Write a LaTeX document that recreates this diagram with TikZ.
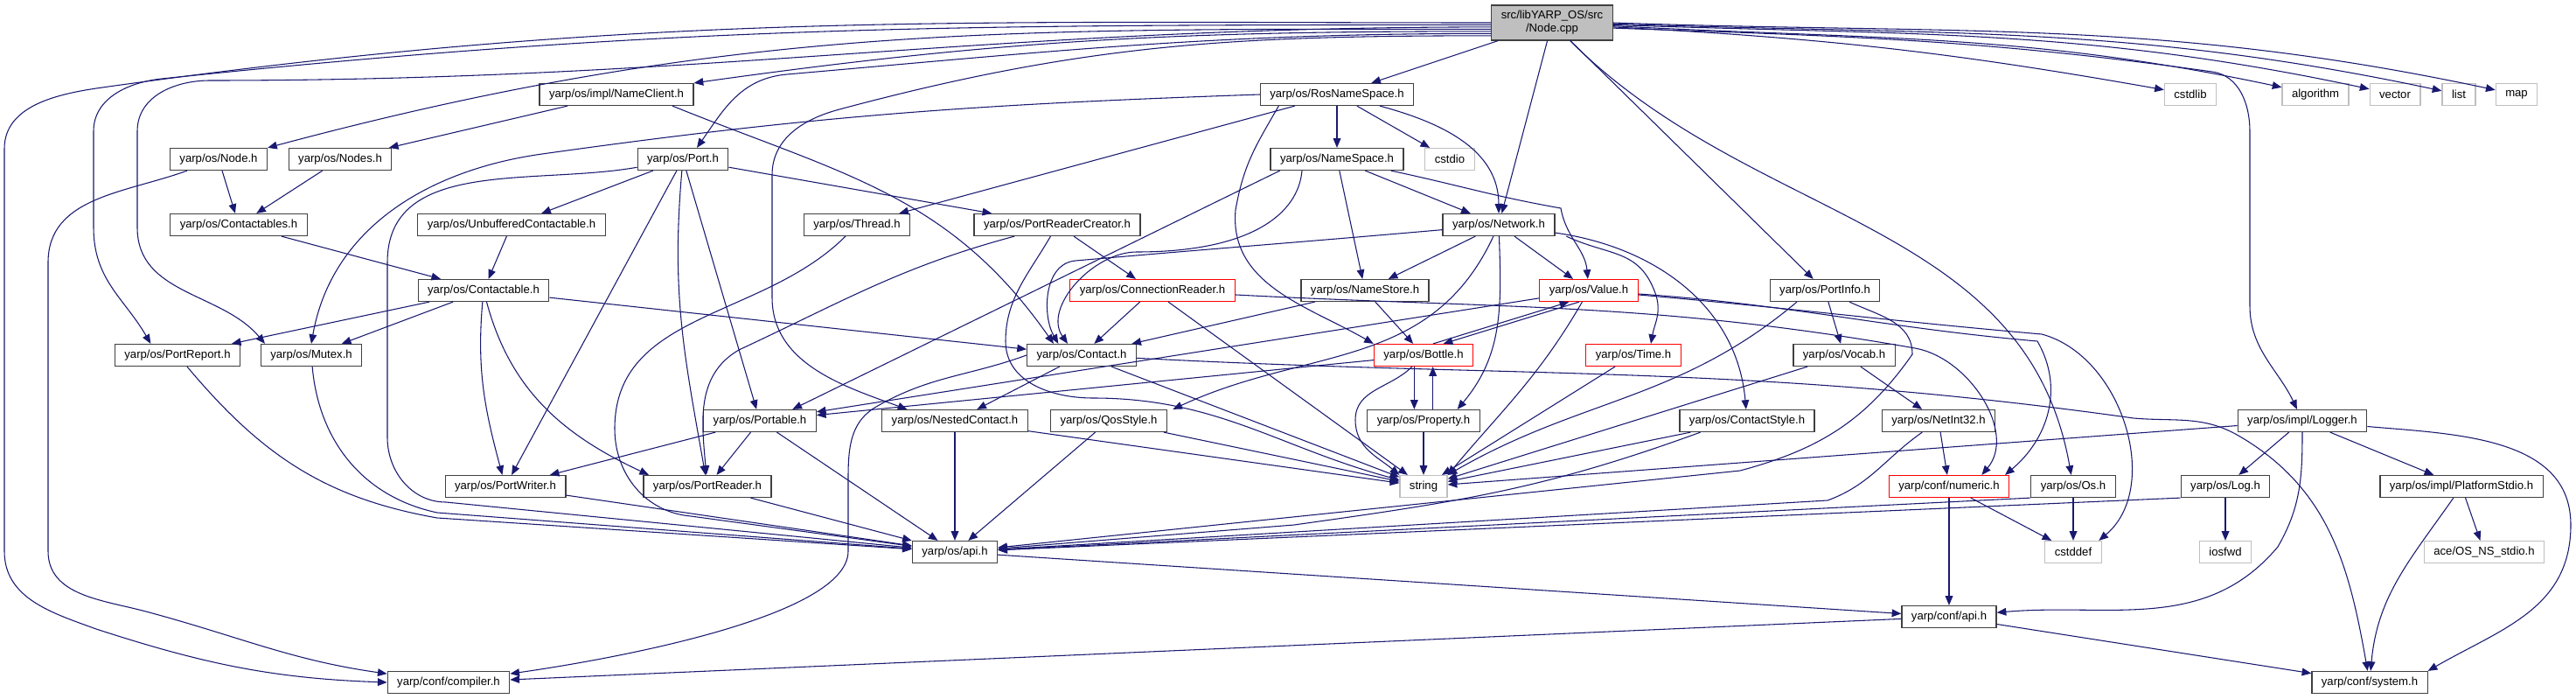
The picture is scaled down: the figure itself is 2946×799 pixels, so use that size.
\documentclass[tikz,border=0pt]{standalone}
\usepackage{fontspec}
\setmainfont{Liberation Sans}
\usetikzlibrary{arrows.meta}
\definecolor{edgeblue}{HTML}{191970}
\definecolor{boxgray}{HTML}{BFBFBF}
\definecolor{boxdark}{HTML}{404040}

\begin{document}
\begin{tikzpicture}[
    x=0.75pt, y=0.75pt,
    font=\fontsize{9.85}{11.25}\selectfont,
    header/.style={rectangle, draw=boxdark, fill=white, line width=0.9pt, minimum height=18.75pt, inner xsep=8.25pt, inner ysep=0pt},
    redheader/.style={header, draw=red},
    sysheader/.style={header, draw=boxgray},
    srcfile/.style={header, fill=boxgray, minimum height=30pt, align=center},
    incl/.style={draw=edgeblue, line width=0.8pt, -{Triangle[length=8pt,width=6.5pt]}}
]
\useasboundingbox (0,0) rectangle (2946,-799);

\node[srcfile] (root) at (1775,-26) {src/libYARP\_OS/src\\/Node.cpp};
\node[header] (nameclient) at (705,-108) {yarp/os/impl/NameClient.h};
\node[header] (rosns) at (1529,-108) {yarp/os/RosNameSpace.h};
\node[sysheader] (cstdlib) at (2505,-108) {cstdlib};
\node[sysheader] (algorithm) at (2648,-108) {algorithm};
\node[sysheader] (vector) at (2739,-108) {vector};
\node[sysheader] (list) at (2812,-108) {list};
\node[sysheader] (map) at (2878,-108) {map};
\node[header] (nodeh) at (250,-182) {yarp/os/Node.h};
\node[header] (nodes) at (389,-182) {yarp/os/Nodes.h};
\node[header] (port) at (781,-182) {yarp/os/Port.h};
\node[header] (namespace) at (1529,-182) {yarp/os/NameSpace.h};
\node[sysheader] (cstdio) at (1658,-182) {cstdio};
\node[header] (contactables) at (273,-257) {yarp/os/Contactables.h};
\node[header] (unbuffered) at (585,-257) {yarp/os/UnbufferedContactable.h};
\node[header] (thread) at (980,-257) {yarp/os/Thread.h};
\node[header] (readercreator) at (1209,-257) {yarp/os/PortReaderCreator.h};
\node[header] (network) at (1714,-257) {yarp/os/Network.h};
\node[header] (contactable) at (553,-332) {yarp/os/Contactable.h};
\node[redheader] (connreader) at (1318,-332) {yarp/os/ConnectionReader.h};
\node[header] (namestore) at (1561,-332) {yarp/os/NameStore.h};
\node[redheader] (value) at (1817,-332) {yarp/os/Value.h};
\node[header] (portinfo) at (2087,-332) {yarp/os/PortInfo.h};
\node[header] (portreport) at (203,-406) {yarp/os/PortReport.h};
\node[header] (mutex) at (356,-406) {yarp/os/Mutex.h};
\node[header] (contact) at (1237,-406) {yarp/os/Contact.h};
\node[redheader] (bottle) at (1628,-406) {yarp/os/Bottle.h};
\node[redheader] (time) at (1868,-406) {yarp/os/Time.h};
\node[header] (vocab) at (2109,-406) {yarp/os/Vocab.h};
\node[header] (portable) at (869,-481) {yarp/os/Portable.h};
\node[header] (nested) at (1092,-481) {yarp/os/NestedContact.h};
\node[header] (qos) at (1268,-481) {yarp/os/QosStyle.h};
\node[header] (property) at (1628,-481) {yarp/os/Property.h};
\node[header] (contactstyle) at (1998,-481) {yarp/os/ContactStyle.h};
\node[header] (netint) at (2217,-481) {yarp/os/NetInt32.h};
\node[header] (logger) at (2633,-481) {yarp/os/impl/Logger.h};
\node[header] (portwriter) at (578,-556) {yarp/os/PortWriter.h};
\node[header] (portreader) at (809,-556) {yarp/os/PortReader.h};
\node[sysheader] (string) at (1628,-556) {string};
\node[redheader] (numeric) at (2229,-556) {yarp/conf/numeric.h};
\node[header] (os) at (2371,-556) {yarp/os/Os.h};
\node[header] (log) at (2545,-556) {yarp/os/Log.h};
\node[header] (platform) at (2815,-556) {yarp/os/impl/PlatformStdio.h};
\node[header] (osapi) at (1092,-631) {yarp/os/api.h};
\node[sysheader] (cstddef) at (2371,-631) {cstddef};
\node[sysheader] (iosfwd) at (2545,-631) {iosfwd};
\node[sysheader] (ace) at (2841,-631) {ace/OS\_NS\_stdio.h};
\node[header] (confapi) at (2229,-705) {yarp/conf/api.h};
\node[header] (compiler) at (513,-780) {yarp/conf/compiler.h};
\node[header] (system) at (2710,-780) {yarp/conf/system.h};

\draw[incl] (root.180) .. controls +(180:620) and +(8:620) .. (117,-100) .. controls +(188:50) and +(90:50) .. (5,-170) -- (5,-630) .. controls +(-90:54) and +(160:54) .. (110,-719) .. controls +(-18:130) and +(178:130) .. (compiler.west);
\draw[incl] (root.182) .. controls +(180:593) and +(6:593) .. (185,-90) .. controls +(186:38) and +(90:38) .. (107,-150) -- (107,-260) .. controls +(-90:60) and +(120:60) .. ([xshift=-23]portreport.north);
\draw[incl] (root.184) .. controls +(180:571) and +(0:571) .. (240,-92) .. controls +(180:40) and +(90:40) .. (157,-150) -- (157,-260) .. controls +(-90:77) and +(130:77) .. ([xshift=4]mutex.north west);
\draw[incl] (root.186) .. controls +(180:550) and +(15:550) .. (nodeh.north east);
\draw[incl] (root.188) .. controls +(180:357) and +(8:357) .. (nameclient.north east);
\draw[incl] (root.190) .. controls +(180:314) and +(5:314) .. (900,-85) .. controls +(185:53) and +(55:53) .. ([xshift=12]port.north);
\draw[incl] (root.192) .. controls +(180:292) and +(15:292) .. (960,-125) .. controls +(195:42) and +(90:42) .. (883,-200) -- (883,-340) .. controls +(-90:76) and +(160:76) .. ([xshift=22]nested.north west);
\draw[incl] (root) -- (rosns);
\draw[incl] (root) -- (network);
\draw[incl] (root) -- (portinfo);
\draw[incl] (root.-45) .. controls +(-45:297) and +(100:297) .. (os.100);
\draw[incl] (root.-5) .. controls +(-2:267) and +(172:267) .. (2530,-82) .. controls +(-8:31) and +(90:31) .. (2573,-150) -- (2573,-350) .. controls +(-90:49) and +(115:49) .. (logger.115);
\draw[incl] (root.-4) .. controls +(-3:246) and +(170:246) .. (cstdlib.170);
\draw[incl] (root.-3) .. controls +(-3:298) and +(168:298) .. (algorithm.168);
\draw[incl] (root.-2) .. controls +(-2:337) and +(168:337) .. (vector.168);
\draw[incl] (root.-1) .. controls +(-2:369) and +(168:369) .. (list.168);
\draw[incl] (root.0) .. controls +(-2:394) and +(168:394) .. (map.168);

\draw[incl] (nameclient) -- (nodes);
\draw[incl] ([xshift=48]nameclient.south) .. controls +(-22:209) and +(125:209) .. ([xshift=-24]contact.north);
\draw[incl] (rosns) -- (namespace);
\draw[incl] (rosns) -- (cstdio);
\draw[incl] (rosns.-15) .. controls +(-15:73) and +(90:73) .. (network.90);
\draw[incl] ([xshift=-50]rosns.south) .. controls +(-120:53) and +(80:53) .. (1413,-240) .. controls +(-95:86) and +(150:86) .. (bottle.north west);
\draw[incl] (rosns) -- (thread);
\draw[incl] (rosns.west) .. controls +(182:321) and +(8:321) .. (620,-176) .. controls +(188:133) and +(80:133) .. (mutex.north);

\draw[incl] (namespace) -- (network);
\draw[incl] (namespace) -- (namestore);
\draw[incl] (namespace.-12) .. controls +(-12:79) and +(170:79) .. (1785,-238) .. controls +(-80:34) and +(95:34) .. (value.95);
\draw[incl] ([xshift=-49]namespace.south) -- ([xshift=28]portable.north);
\draw[incl] ([xshift=-30]namespace.south) .. controls +(-95:50) and +(0:130) .. (1300,-288) .. controls +(180:50) and +(125:50) .. ([xshift=-12]contact.north);

\draw[incl] (network) -- (namestore);
\draw[incl] (network) -- (value);
\draw[incl] ([xshift=58]network.south) .. controls +(-25:54) and +(110:54) .. (1893,-335) .. controls +(-70:23) and +(80:23) .. ([xshift=15]time.north);
\draw[incl] (network.-8) .. controls +(-8:117) and +(95:117) .. (contactstyle.95);
\draw[incl] (network.-88) .. controls +(-88:81) and +(50:81) .. ([xshift=29]property.north);
\draw[incl] (network.-115) .. controls +(-115:170) and +(25:170) .. ([xshift=55]qos.north);
\draw[incl] (network.185) .. controls +(185:165) and +(5:165) .. (1230,-298) .. controls +(185:37) and +(120:37) .. ([xshift=-20]contact.north);

\draw[incl] (nodeh) -- (contactables);
\draw[incl] (nodeh.200) .. controls +(200:75) and +(90:75) .. (55,-300) -- (55,-630) .. controls +(-90:51) and +(165:51) .. (167,-699) .. controls +(-15:111) and +(172:111) .. (compiler.172);
\draw[incl] (nodes) -- (contactables);
\draw[incl] (contactables) -- (contactable);

\draw[incl] (port) -- (unbuffered);
\draw[incl] (port) -- (portwriter);
\draw[incl] (port.-95) .. controls +(-95:141) and +(100:141) .. (portreader.100);
\draw[incl] (port) -- (portable);
\draw[incl] (port) -- (readercreator);
\draw[incl] (port.190) .. controls +(190:120) and +(90:120) .. (443,-300) -- (443,-500) .. controls +(-90:39) and +(180:39) .. (510,-574) -- (osapi);
\draw[incl] (unbuffered) -- (contactable);

\draw[incl] (contactable) -- (portreport);
\draw[incl] (contactable) -- (mutex);
\draw[incl] (contactable.-95) .. controls +(-95:78) and +(105:78) .. (portwriter.105);
\draw[incl] (contactable.-75) .. controls +(-75:106) and +(155:106) .. ([xshift=5]portreader.north west);
\draw[incl] (contactable) -- (contact);

\draw[incl] (thread.-135) .. controls +(-135:134) and +(90:134) .. (703,-490) .. controls +(-90:52) and +(175:52) .. (790,-590) -- (osapi);
\draw[incl] (readercreator) -- (connreader);
\draw[incl] (readercreator.-120) .. controls +(-120:49) and +(90:49) .. (1150,-390) .. controls +(-90:47) and +(180:47) .. (1250,-455) .. controls +(0:142) and +(165:142) .. (string.165);
\draw[incl] (readercreator.-165) .. controls +(-165:134) and +(25:134) .. (845,-400) .. controls +(-150:58) and +(95:58) .. (portreader.95);

\draw[incl] (connreader) -- (contact);
\draw[incl] (connreader) -- (string);
\draw[incl] (connreader.-3) .. controls +(-3:304) and +(170:304) .. (2190,-398) .. controls +(-10:63) and +(50:63) .. ([xshift=28]numeric.north);

\draw[incl] (contact) -- (nested);
\draw[incl] (contact) -- (string);
\draw[incl] (contact.west) .. controls +(200:71) and +(30:71) .. (1002,-465) .. controls +(-150:39) and +(90:39) .. (970,-560) -- (970,-630) .. controls +(-90:80) and +(8:80) .. (compiler.8);
\draw[incl] (contact.-3) .. controls +(-3:445) and +(172:445) .. (2440,-478) .. controls +(-5:47) and +(150:47) .. (2560,-498) .. controls +(-30:120) and +(100:120) .. (system.100);

\draw[incl] (nested) -- (osapi);
\draw[incl] (nested) -- (string);
\draw[incl] (qos) -- (osapi);
\draw[incl] (qos) -- (string);
\draw[incl] (namestore) -- (bottle);
\draw[incl] (namestore) -- (contact);

\draw[incl] (bottle.50) -- (value.210);
\draw[incl] (value.230) -- (bottle.30);
\draw[incl] (value.-120) .. controls +(-120:98) and +(50:98) .. (string.north east);
\draw[incl] (value) -- (portable);
\draw[incl] (value.-5) .. controls +(-5:181) and +(175:181) .. (2335,-382) .. controls +(-15:95) and +(40:95) .. ([xshift=22]cstddef.north);
\draw[incl] (value.-4) .. controls +(-4:179) and +(175:179) .. (2330,-390) .. controls +(-60:63) and +(40:63) .. ([xshift=48]numeric.north);

\draw[incl] ([xshift=-8]bottle.south) -- ([xshift=-8]property.north);
\draw[incl] ([xshift=8]property.north) -- ([xshift=8]bottle.south);
\draw[incl] (bottle.-135) .. controls +(-135:35) and +(90:35) .. (1550,-480) .. controls +(-90:32) and +(140:32) .. (string.north west);
\draw[incl] (bottle) -- (portable);
\draw[incl] (property) -- (string);
\draw[incl] (time) -- (string);
\draw[incl] (vocab) -- (string);
\draw[incl] (vocab) -- (netint);

\draw[incl] (portinfo) -- (vocab);
\draw[incl] ([xshift=-24]portinfo.south) .. controls +(-140:177) and +(30:177) .. (string.north east);
\draw[incl] (portinfo.-25) .. controls +(-25:37) and +(90:37) .. (2187,-405) .. controls +(-125:93) and +(15:93) .. (1990,-538) -- (osapi);
\draw[incl] (contactstyle) -- (string);
\draw[incl] ([xshift=-40]contactstyle.south) .. controls +(-160:191) and +(8:191) .. (1480,-600) -- (osapi);
\draw[incl] (netint) -- (numeric);
\draw[incl] (netint.-145) .. controls +(-145:52) and +(20:52) .. (2090,-572) -- (osapi);

\draw[incl] (os.south west) -- (osapi);
\draw[incl] (os) -- (cstddef);
\draw[incl] (numeric) -- (confapi);
\draw[incl] (numeric) -- (cstddef);

\draw[incl] (logger) -- (log);
\draw[incl] (logger) -- (platform);
\draw[incl] (logger) -- (string);
\draw[incl] (logger.-90) .. controls +(-90:52) and +(60:52) .. (2605,-625) .. controls +(-130:129) and +(5:129) .. (confapi.5);
\draw[incl] (logger.-5) .. controls +(-5:101) and +(90:101) .. (2940,-600) .. controls +(-90:96) and +(30:96) .. ([xshift=50]system.north);
\draw[incl] (log) -- (iosfwd);
\draw[incl] (log.south west) -- (osapi);
\draw[incl] (platform) -- (ace);
\draw[incl] (platform.-125) .. controls +(-125:86) and +(85:86) .. (system.85);

\draw[incl] (portable) -- (portwriter);
\draw[incl] (portable) -- (portreader);
\draw[incl] (portable) -- (osapi);
\draw[incl] (portwriter) -- (osapi);
\draw[incl] (portreader) -- (osapi);
\draw[incl] (portreport.-50) .. controls +(-50:131) and +(170:131) .. (500,-592) -- (osapi);
\draw[incl] (mutex.-85) .. controls +(-85:86) and +(168:86) .. (500,-586) -- (osapi);

\draw[incl] (osapi) -- (confapi);
\draw[incl] (confapi) -- (compiler);
\draw[incl] (confapi) -- (system);
\end{tikzpicture}
\end{document}
